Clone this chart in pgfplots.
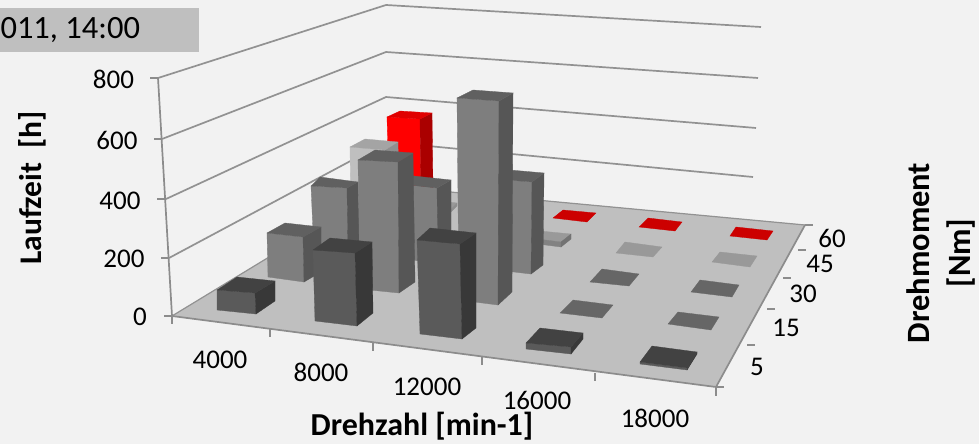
\documentclass[border=0pt]{standalone}
\usepackage{pgfplots}
\pgfplotsset{compat=1.18}
\usepackage{fontspec}
\setmainfont{Carlito}
\definecolor{bg}{HTML}{F2F2F2}
\definecolor{flr}{HTML}{BFBFBF}
\definecolor{gl}{HTML}{929292}
\definecolor{ax}{HTML}{8C8C8C}
% dark row (5 Nm)
\definecolor{dF}{HTML}{5A5A5A}\definecolor{dT}{HTML}{424242}\definecolor{dS}{HTML}{383838}
% mid rows (15, 30 Nm)
\definecolor{mF}{HTML}{7E7E7E}\definecolor{mT}{HTML}{606060}\definecolor{mS}{HTML}{565656}\definecolor{mP}{HTML}{666666}
% light row (45 Nm)
\definecolor{lF}{HTML}{BFBFBF}\definecolor{lT}{HTML}{A4A4A4}\definecolor{lS}{HTML}{8E8E8E}\definecolor{lP}{HTML}{999999}
% red row (60 Nm)
\definecolor{rF}{HTML}{FF0000}\definecolor{rT}{HTML}{E00000}\definecolor{rS}{HTML}{AA0000}\definecolor{rP}{HTML}{CC0000}
\newcommand{\face}[2]{\addplot[fill=#1,draw=#1,line width=0.3pt] coordinates {#2} --cycle;}
\newcommand{\lin}[2][1.7pt]{\addplot[gl,line width=#1] coordinates {#2};}
\newcommand{\axl}[1]{\addplot[ax,line width=1.7pt] coordinates {#1};}
\begin{document}
\begin{tikzpicture}
\begin{axis}[
  scale only axis, width=979pt, height=444pt,
  xmin=0, xmax=979, ymin=0, ymax=444, y dir=reverse,
  hide axis, clip=true,
  every node/.append style={inner sep=0pt, outer sep=0pt},
]
% background and title box
\face{bg}{(0,0)(979,0)(979,444)(0,444)}
\face{flr}{(0,8)(198,8)(198,51)(0,51)}
% floor
\face{flr}{(172,316)(386,186)(805,225)(716,387)}
% gridlines
\lin{(158,78)(386,5)(761,27)}
\lin{(162,139)(386,52)(758,78)}
\lin{(166,199)(386,97)(756,128)}
\lin{(169,258)(386,142)(753,177)}
\lin[1.2pt]{(172,316)(386,186)(805,225)}
% axes and ticks
\axl{(158,78)(172,316)}
\axl{(172,316)(716,387)(805,225)}
\axl{(150,78)(158,78)} \axl{(154,139)(162,139)} \axl{(157,199)(166,199)} \axl{(161,258)(169,258)} \axl{(164,316)(172,316)}
\axl{(172,316)(172,324)} \axl{(270,329)(270,337)} \axl{(373,343)(373,351)} \axl{(482,357)(482,365)} \axl{(595,373)(595,381)} \axl{(716,387)(716,396)}
\axl{(716,387)(724,387)} \axl{(747,345)(755,345)} \axl{(767,309)(775,309)} \axl{(783,278)(791,278)} \axl{(798,250)(806,250)} \axl{(805,225)(813,225)}
% ---- 60 Nm
\face{rP}{(553,218)(563,210)(596,213)(587,222)}
\face{rP}{(639,227)(648,218)(682,222)(675,231)}
\face{rP}{(730,236)(736,227)(773,231)(767,240)}
\face{rF}{(387,117)(420,119)(421,195)(389,192)}
\face{rS}{(420,119)(432,113)(433,188)(421,195)}
\face{rT}{(387,117)(400,111)(432,113)(420,119)}
% ---- 45 Nm
\face{lF}{(350,147)(385,150)(386,225)(351,222)}
\face{lS}{(385,150)(398,142)(399,217)(386,225)}
\face{lT}{(350,147)(365,139)(398,142)(385,150)}
\face{lP}{(413,207)(423,199)(457,203)(449,211)}
\face{lS}{(413,207)(449,211)(449,214)(413,210)}
\face{lS}{(449,211)(457,203)(457,206)(449,214)}
\face{lP}{(530,238)(540,231)(571,234)(561,242)}
\face{lP!85!black}{(530,238)(561,242)(561,247)(530,243)}
\face{lS!80!black}{(561,242)(571,234)(571,239)(561,247)}
\face{lP}{(616,253)(625,242)(662,247)(653,257)}
\face{lP}{(712,262)(720,252)(757,256)(750,267)}
% ---- 30 Nm
\face{mF}{(311,186)(347,188)(348,259)(314,255)}
\face{mS}{(347,188)(358,182)(360,253)(348,259)}
\face{mT}{(311,186)(320,177)(358,182)(347,188)}
\face{mF}{(400,184)(437,188)(438,264)(400,258)}
\face{mS}{(437,188)(451,180)(451,257)(438,264)}
\face{mT}{(400,184)(414,176)(451,180)(437,188)}
\face{mF}{(495,179)(532,182)(531,274)(497,270)}
\face{mS}{(532,182)(544,173)(543,265)(531,274)}
\face{mT}{(495,179)(510,170)(544,173)(532,182)}
\face{mP}{(590,282)(602,269)(639,274)(629,286)}
\face{mP}{(691,292)(700,280)(739,285)(732,297)}
% ---- 15 Nm
\face{mF}{(267,233)(303,237)(304,282)(268,277)}
\face{mS}{(303,237)(321,227)(321,272)(304,282)}
\face{mT}{(267,233)(285,223)(321,227)(303,237)}
\face{mF}{(358,160)(398,162)(399,293)(360,289)}
\face{mS}{(398,162)(413,153)(415,282)(399,293)}
\face{mT}{(358,160)(375,150)(413,153)(398,162)}
\face{mF}{(457,98)(499,101)(498,305)(459,300)}
\face{mS}{(499,101)(513,93)(512,292)(498,305)}
\face{mT}{(457,98)(473,90)(513,93)(499,101)}
\face{mP}{(560,313)(573,300)(613,305)(602,318)}
\face{mP}{(668,324)(678,312)(719,317)(711,330)}
% ---- 5 Nm
\face{dF}{(217,290)(255,293)(256,314)(217,310)}
\face{dS}{(255,293)(275,281)(275,301)(256,314)}
\face{dT}{(217,290)(237,277)(275,281)(255,293)}
\face{dF}{(313,250)(355,253)(357,326)(315,321)}
\face{dS}{(355,253)(372,242)(373,313)(357,326)}
\face{dT}{(313,250)(330,238)(372,242)(355,253)}
\face{dF}{(417,240)(460,244)(462,339)(420,334)}
\face{dS}{(460,244)(476,233)(476,328)(462,339)}
\face{dT}{(417,240)(430,228)(476,233)(460,244)}
\face{dF}{(526,343)(571,347)(571,354)(526,349)}
\face{dS}{(571,347)(583,333)(583,339)(571,354)}
\face{dT}{(526,343)(540,328)(583,333)(571,347)}
\face{dF}{(640,362)(688,368)(687,370)(640,364)}
\face{dS}{(688,368)(697,352)(697,354)(687,370)}
\face{dT}{(640,362)(652,346)(697,352)(688,368)}
% text
\node[overlay, font=\fontsize{32.5}{32.5}\selectfont, anchor=west] at (axis cs:-3,30) {011, 14:00};
\foreach \t/\x/\y in {800/113.5/79,600/117/140,400/120/201,200/124/259,0/140/317,
  4000/220/360,8000/321/372,12000/427/387,16000/537/400,18000/655/418,
  5/757/367,15/786/328,30/803/294,45/820/264,60/832/238}{
  \edef\temp{\noexpand\node[font=\noexpand\fontsize{27}{27}\noexpand\selectfont] at (axis cs:\x,\y) {\t};}\temp
}
\node[font=\fontsize{32}{32}\selectfont\bfseries] at (axis cs:422,426) {Drehzahl [min-1]};
\node[font=\fontsize{31.5}{31.5}\selectfont\bfseries, rotate=90] at (axis cs:32,188) {Laufzeit~~[h]};
\node[font=\fontsize{32.5}{32.5}\selectfont\bfseries, rotate=90] at (axis cs:918,253) {Drehmoment};
\node[font=\fontsize{32.5}{32.5}\selectfont\bfseries, rotate=90] at (axis cs:961,253) {[Nm]};
\end{axis}
\end{tikzpicture}
\end{document}
